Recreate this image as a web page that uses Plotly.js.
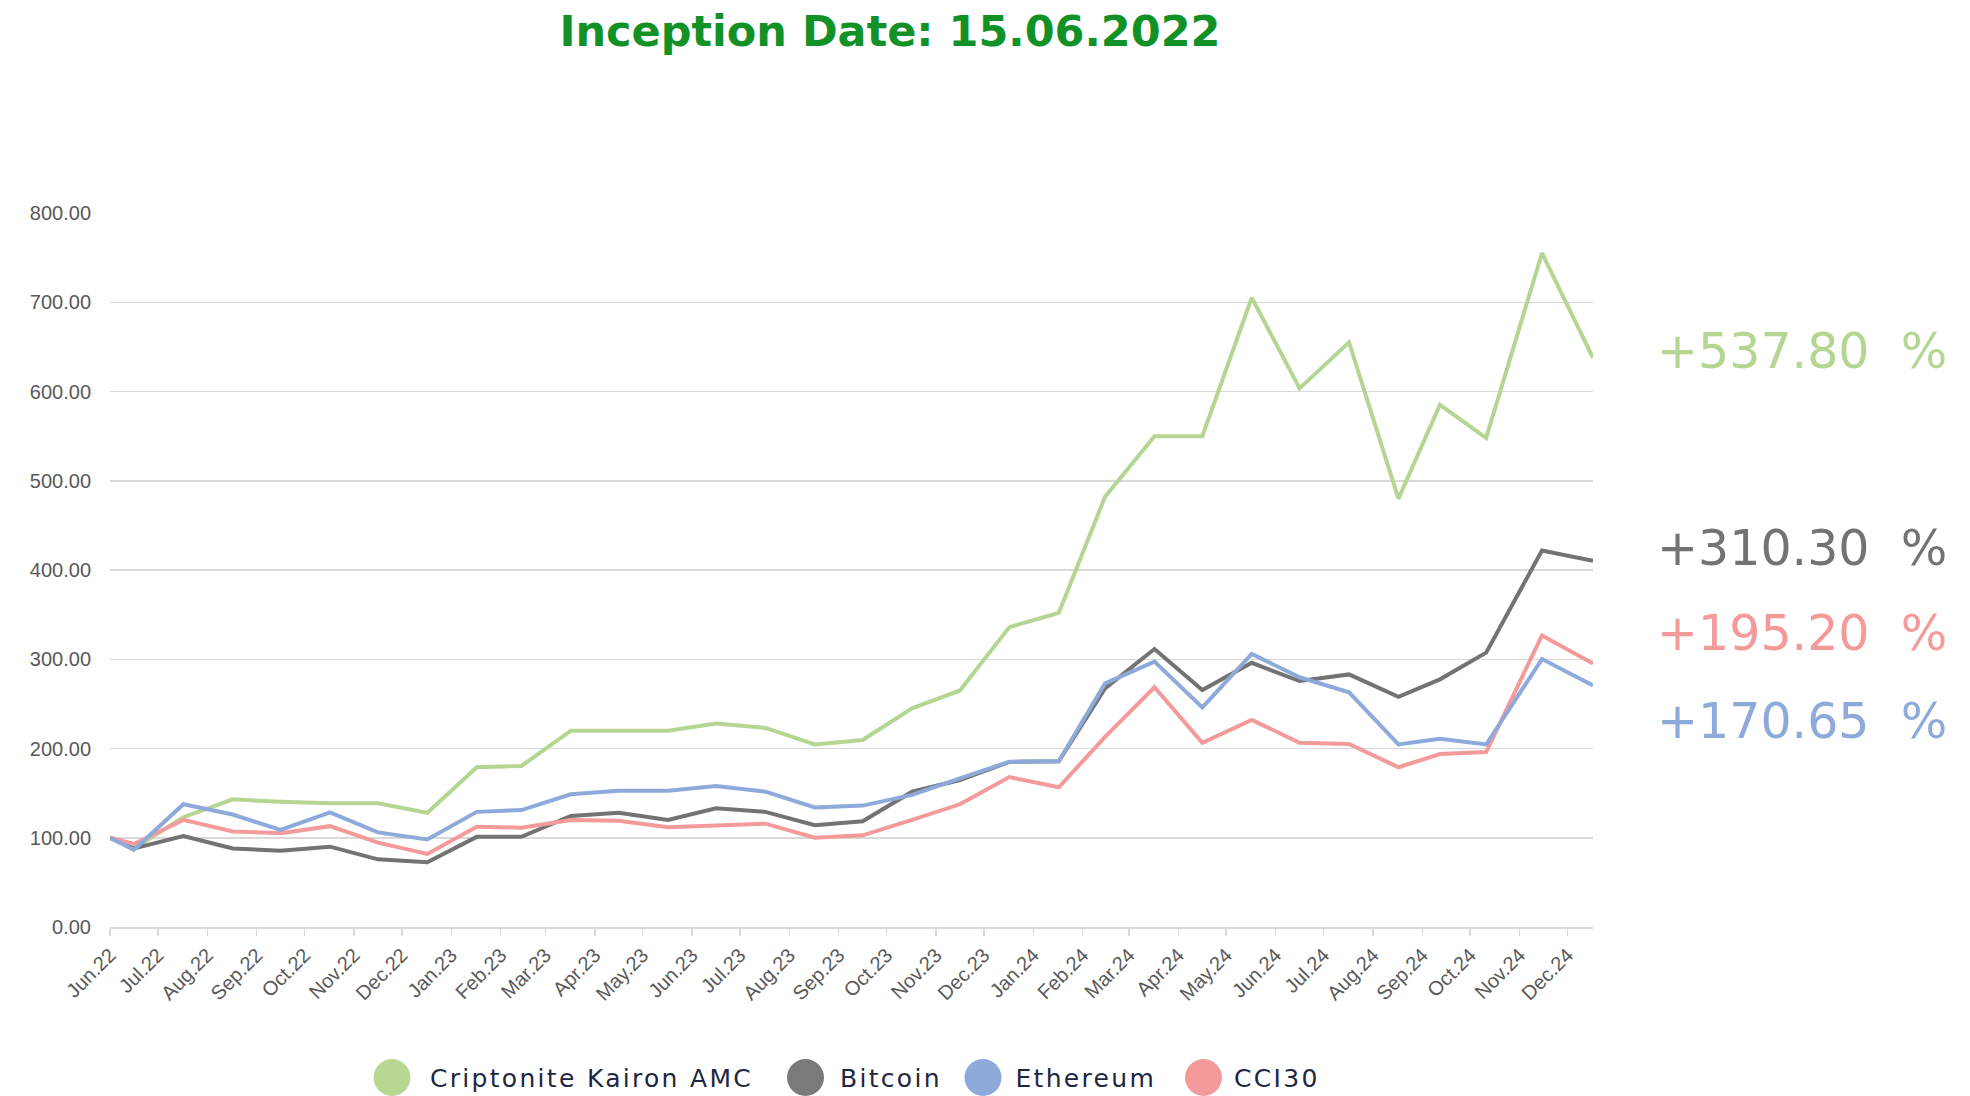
<!DOCTYPE html>
<html><head><meta charset="utf-8">
<script src="https://cdn.plot.ly/plotly-3.0.1.min.js"></script>
<style>html,body{margin:0;padding:0;background:#fff}#chart{width:1970px;height:1096px}</style>
</head><body><div id="chart"></div>
<script>
// ---- data ----
const dates = ['2022-06-15','2022-06-30','2022-07-31','2022-08-31','2022-09-30','2022-10-31','2022-11-30','2022-12-31',
  '2023-01-31','2023-02-28','2023-03-31','2023-04-30','2023-05-31','2023-06-30','2023-07-31','2023-08-31','2023-09-30',
  '2023-10-31','2023-11-30','2023-12-31','2024-01-31','2024-02-29','2024-03-31','2024-04-30','2024-05-31','2024-06-30',
  '2024-07-31','2024-08-31','2024-09-26','2024-10-25','2024-11-29','2024-12-31'];
const kairon   = [100, 88, 123, 143, 140.4, 138.6, 138.6, 128, 179, 180.4, 220, 220, 220, 228, 223, 204.5, 209.5,
  245, 265, 336, 352, 482, 550, 550, 705, 603.5, 655, 480, 585, 548, 755, 637.8];
const bitcoin  = [100, 88, 102, 88, 85.5, 90, 75.8, 72.5, 101, 101, 124.4, 128, 120, 133, 129, 114, 118.4,
  151.6, 164.7, 185, 185.6, 267.4, 311.5, 265.5, 296, 275.6, 283, 258, 277.5, 307.4, 421.8, 410.3];
const ethereum = [100, 86.5, 137.5, 126, 108.7, 128.5, 106, 98, 129, 131, 148.7, 152.7, 152.7, 158, 151.6, 134, 136,
  148, 166.6, 185.2, 185.6, 273, 297.3, 246, 305.9, 279.8, 263, 204.6, 211, 204.5, 300.2, 270.65];
const cci30    = [100, 93, 120, 107, 105, 113, 94.5, 81.8, 112.4, 111.3, 120, 119, 111.7, 113.2, 115.8, 100, 102.7,
  120, 137.5, 168, 156.5, 213, 268.6, 206.5, 232, 206.5, 205, 179, 193.8, 196, 326.7, 295.2];
const seriesNames = ['Criptonite Kairon AMC', 'Bitcoin', 'Ethereum', 'CCI30'];
const yTicks = [0, 100, 200, 300, 400, 500, 600, 700, 800];
const titleText = 'Inception Date: 15.06.2022';

// ---- styling ----
const colors = {k: '#b5d693', b: '#737373', e: '#8eaadb', c: '#f59a9a'};
const L = 110, R = 1593, T = 213, B = 927, W = 1970, H = 1096;
const px2x = p => (p - L) / (R - L);
const py2y = p => (B - p) / (B - T);

const series = [
  {name: seriesNames[0], y: kairon, color: colors.k},
  {name: seriesNames[1], y: bitcoin, color: colors.b},
  {name: seriesNames[3], y: cci30, color: colors.c},
  {name: seriesNames[2], y: ethereum, color: colors.e}
];
const traces = series.map(s => ({
  type: 'scatter', mode: 'lines', x: dates, y: s.y, name: s.name,
  line: {color: s.color, width: 4}, showlegend: false, hoverinfo: 'x+y+name'
}));

// return labels on the right
const retDefs = [
  {y: kairon, color: colors.k, py: 351},
  {y: bitcoin, color: colors.b, py: 548},
  {y: cci30, color: colors.c, py: 633},
  {y: ethereum, color: colors.e, py: 721}
];
const annotations = retDefs.map(d => ({
  xref: 'paper', yref: 'paper', x: px2x(1802), y: py2y(d.py), xanchor: 'center', yanchor: 'middle',
  text: '+' + (d.y[d.y.length - 1] - 100).toFixed(2) + '\u00a0\u00a0%', showarrow: false,
  font: {family: 'DejaVu Sans', size: 49, color: d.color}
}));

// custom legend
const legendItems = [
  {name: seriesNames[0], color: '#b8d892', cx: 392, tx: 430},
  {name: seriesNames[1], color: '#7a7a7a', cx: 805.5, tx: 840},
  {name: seriesNames[2], color: '#8eaadb', cx: 983, tx: 1015.5},
  {name: seriesNames[3], color: '#f59a9a', cx: 1203.5, tx: 1234}
];
const legendY = 1077.5;
const shapes = legendItems.map(it => ({
  type: 'circle', xref: 'paper', yref: 'paper', xsizemode: 'pixel', ysizemode: 'pixel',
  xanchor: px2x(it.cx), yanchor: py2y(legendY), x0: -18.5, x1: 18.5, y0: -18.5, y1: 18.5,
  fillcolor: it.color, line: {width: 0}
}));
legendItems.forEach(it => annotations.push({
  xref: 'paper', yref: 'paper', x: px2x(it.tx), y: py2y(legendY + 1), xanchor: 'left', yanchor: 'middle',
  text: it.name, showarrow: false, font: {family: 'DejaVu Sans', size: 25, color: '#1e2740'}
}));

const layout = {
  width: W, height: H,
  margin: {l: L, r: W - R, t: T, b: H - B, pad: 0},
  paper_bgcolor: '#ffffff', plot_bgcolor: '#ffffff',
  title: {text: '<b>' + titleText + '</b>', xref: 'container', yref: 'container',
    x: 890 / W, xanchor: 'center', y: 1 - 31 / H, yanchor: 'middle',
    font: {family: 'DejaVu Sans', size: 43, color: '#119126'}},
  xaxis: {type: 'date', range: [dates[0], dates[dates.length - 1]], tick0: dates[0], dtick: 'M1',
    tickformat: '%b.%y', tickangle: -45, ticks: 'outside', ticklen: 7, tickwidth: 1.5, tickcolor: '#d9d9d9',
    showgrid: false, showline: true, linecolor: '#d9d9d9', linewidth: 1.5, zeroline: false,
    tickfont: {family: 'Liberation Sans', size: 20, color: '#595959'}},
  yaxis: {range: [0, 800], tickvals: yTicks, tickformat: '.2f', showgrid: true, gridcolor: '#d9d9d9', gridwidth: 1.5,
    zeroline: false, showline: false, ticks: '', ticklabelstandoff: 18,
    tickfont: {family: 'Liberation Sans', size: 20, color: '#595959'}},
  annotations: annotations, shapes: shapes, showlegend: false
};
Plotly.newPlot('chart', traces, layout, {displayModeBar: false, staticPlot: true}).then(gd => {
  // widen the legend lettering like the reference, keeping each label's left edge in place
  const root = gd.getBoundingClientRect();
  gd.querySelectorAll('g.annotation').forEach(g => {
    const idx = +g.getAttribute('data-index');
    if (idx >= retDefs.length) {
      const it = legendItems[idx - retDefs.length];
      const t = g.querySelector('text.annotation-text');
      if (!t) return;
      t.style.letterSpacing = '2.3px';
      const left = t.getBoundingClientRect().left - root.left;
      const dx = it.tx - left;
      const prev = t.getAttribute('transform') || '';
      t.setAttribute('transform', prev + ' translate(' + dx + ',0)');
    }
  });
});
</script></body></html>
